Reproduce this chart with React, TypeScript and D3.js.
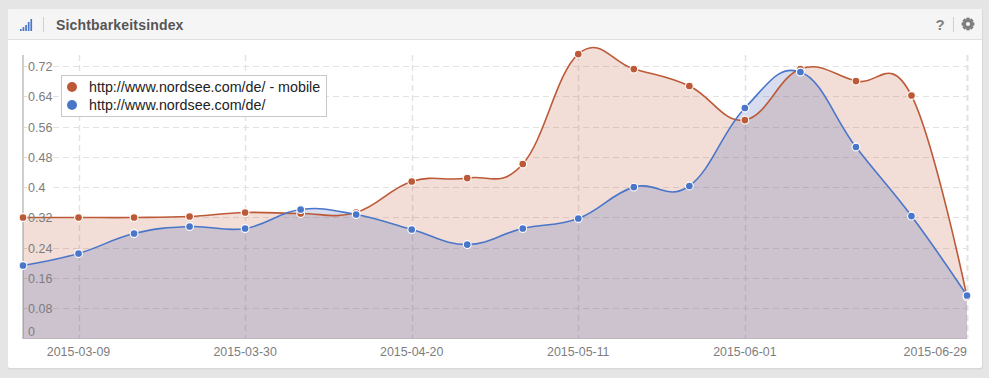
import React from "react";
import * as d3 from "d3";

const W = 989, H = 378;
const dates = ["2015-03-02","2015-03-09","2015-03-16","2015-03-23","2015-03-30","2015-04-06","2015-04-13","2015-04-20","2015-04-27","2015-05-04","2015-05-11","2015-05-18","2015-05-25","2015-06-01","2015-06-08","2015-06-15","2015-06-22","2015-06-29"];
const mobile = [0.3197,0.3197,0.3197,0.3223,0.3329,0.3303,0.3329,0.4148,0.4240,0.4610,0.7516,0.7120,0.6671,0.5772,0.7120,0.6803,0.6420,0.1100];
const desktop = [0.1929,0.2246,0.2774,0.2959,0.2906,0.3408,0.3276,0.2880,0.2483,0.2906,0.3170,0.4000,0.4030,0.6090,0.7041,0.5060,0.3236,0.1136];
const yTicks = [0,0.08,0.16,0.24,0.32,0.4,0.48,0.56,0.64,0.72];
const xTickDates = ["2015-03-09","2015-03-30","2015-04-20","2015-05-11","2015-06-01","2015-06-29"];
const seriesNames = ["http://www.nordsee.com/de/ - mobile","http://www.nordsee.com/de/"];
const seriesColors = ["#bc5a38","#4a76c9"];
const fillColors = ["rgba(188,90,56,0.2)","rgba(74,100,180,0.22)"];

const parse = d3.utcParse("%Y-%m-%d");
const x = d3.scaleUtc().domain([parse(dates[0])!, parse(dates[17])!]).range([23, 967]);
const y = d3.scaleLinear().domain([0, 0.72]).range([338.5, 66]);
const font = "'Liberation Sans', Arial, sans-serif";

// Highcharts-style spline (without extreme clamping) as a d3 curve factory
function splineCurve(context: any) {
  let pts: [number, number][] = [];
  let inArea = false;
  let segment = 0;
  return {
    areaStart() { inArea = true; segment = 0; },
    areaEnd() { context.closePath(); inArea = false; },
    lineStart() { pts = []; },
    point(a: number, b: number) { pts.push([+a, +b]); },
    lineEnd() {
      if (inArea && segment === 1) {
        pts.forEach((p) => context.lineTo(p[0], p[1]));
        segment++;
        return;
      }
      const n = pts.length;
      const ctl = pts.map((p, i) => {
        if (i === 0 || i === n - 1) return { lx: p[0], ly: p[1], rx: p[0], ry: p[1] };
        const prev = pts[i - 1], next = pts[i + 1];
        const lx = (1.5 * p[0] + prev[0]) / 2.5, rx = (1.5 * p[0] + next[0]) / 2.5;
        let ly = (1.5 * p[1] + prev[1]) / 2.5, ry = (1.5 * p[1] + next[1]) / 2.5;
        const c = ((ry - ly) * (rx - p[0])) / (rx - lx) + p[1] - ry;
        ly += c; ry += c;
        return { lx, ly, rx, ry };
      });
      context.moveTo(pts[0][0], pts[0][1]);
      for (let i = 1; i < n; i++) {
        context.bezierCurveTo(ctl[i - 1].rx, ctl[i - 1].ry, ctl[i].lx, ctl[i].ly, pts[i][0], pts[i][1]);
      }
      segment++;
    },
  };
}

const line = d3.line<number>().x((_, i) => x(parse(dates[i])!)).y((d) => y(d)).curve(splineCurve as any);
const area = d3.area<number>().x((_, i) => x(parse(dates[i])!)).y0(y(0)).y1((d) => y(d)).curve(splineCurve as any);
const series = [mobile, desktop];

export default function App() {
  return (
    <svg width={W} height={H} style={{ position: "absolute", left: 0, top: 0, fontFamily: font }}>
      <rect width={W} height={H} fill="#e5e5e5" />
      <rect x={8} y={9.5} width={975} height={360} rx={2} fill="#d8d8d8" />
      <rect x={8} y={9} width={974} height={359} rx={2} fill="#fff" />
      <path d="M8 39V11a2 2 0 0 1 2-2h970a2 2 0 0 1 2 2v28z" fill="#f5f5f5" />
      <rect x={8} y={39} width={974} height={1} fill="#e0e0e0" />
      {[2, 4, 6, 9, 12].map((h, i) => (
        <rect key={i} x={20 + i * 2.6} y={31 - h} width={1.7} height={h} fill="#4a76c9" />
      ))}
      <rect x={43} y={17} width={1} height={15} fill="#d0d0d0" />
      <text x={56} y={29.5} fontSize={14} fontWeight={700} fill="#555" letterSpacing={0.17}>Sichtbarkeitsindex</text>
      <text x={940} y={29.5} fontSize={15} fontWeight={700} fill="#7f7f7f" textAnchor="middle">?</text>
      <rect x={953} y={17} width={1} height={15} fill="#d0d0d0" />
      <g transform="translate(968,24)" fill="#7f7f7f">
        {d3.range(8).map((i) => (
          <rect key={i} x={-1.5} y={-6.2} width={3} height={12.4} transform={`rotate(${i * 45})`} />
        ))}
        <circle r={4.8} />
        <circle r={2.1} fill="#f5f5f5" />
      </g>

      {yTicks.filter((t) => t > 0).map((t) => (
        <line key={t} x1={53} x2={967} y1={Math.round(y(t)) + 0.5} y2={Math.round(y(t)) + 0.5} stroke="#e2e2e2" strokeWidth={1.2} strokeDasharray="6 4" />
      ))}
      {yTicks.filter((t) => t > 0).map((t) => (
        <line key={t} x1={23} x2={27} y1={Math.round(y(t)) + 0.5} y2={Math.round(y(t)) + 0.5} stroke="#dcdcdc" />
      ))}
      {xTickDates.map((d) => (
        <line key={d} x1={Math.round(x(parse(d)!)) + 0.5} x2={Math.round(x(parse(d)!)) + 0.5} y1={55} y2={338} stroke="#e2e2e2" strokeWidth={d === "2015-06-29" ? 2 : 1.4} strokeDasharray="6 4" />
      ))}
      <line x1={23} x2={23} y1={55} y2={339} stroke="#cfcfcf" strokeWidth={2} />
      <line x1={23} x2={967} y1={338.5} y2={338.5} stroke="#cfcfcf" />

      {series.map((s, i) => <path key={i} d={area(s)!} fill={fillColors[i]} />)}
      {series.map((s, i) => <path key={i} d={line(s)!} fill="none" stroke={seriesColors[i]} strokeWidth={1.6} />)}
      {series.map((s, i) => s.map((v, j) => (
        <circle key={`${i}-${j}`} cx={x(parse(dates[j])!)} cy={y(v)} r={3.9} fill={seriesColors[i]} stroke="#fff" strokeWidth={1.1} />
      )))}

      {yTicks.map((t) => (
        <text key={t} x={28} y={t === 0 ? 336 : Math.round(y(t)) + 5} fontSize={12.5} fill="#7d7d7d">{t}</text>
      ))}
      {xTickDates.map((d, i) => (
        <text key={d} x={i === 5 ? 967 : x(parse(d)!)} y={356} fontSize={12.4} fill="#7d7d7d" textAnchor={i === 5 ? "end" : "middle"}>{d}</text>
      ))}

      <rect x={61.5} y={75.5} width={265} height={41} fill="#fff" stroke="#c8c8c8" />
      {seriesNames.map((n, i) => (
        <g key={n}>
          <circle cx={72} cy={87 + i * 18} r={5} fill={seriesColors[i]} />
          <text x={89} y={92 + i * 18} fontSize={14.3} fill="#222">{n}</text>
        </g>
      ))}
    </svg>
  );
}
